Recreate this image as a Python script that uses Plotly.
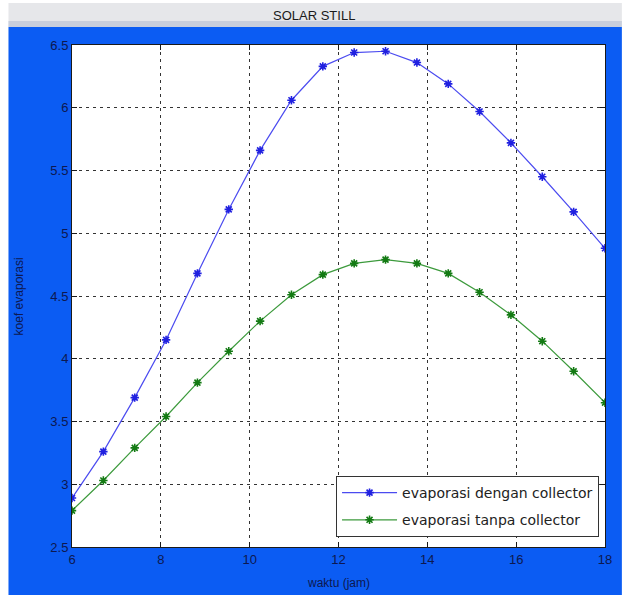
import plotly.graph_objects as go

# ---- data ----
jam = [6.0, 6.706, 7.412, 8.118, 8.824, 9.529, 10.235, 10.941, 11.647,
       12.353, 13.059, 13.765, 14.471, 15.176, 15.882, 16.588, 17.294, 18.0]
dengan_collector = [2.89, 3.26, 3.69, 4.15, 4.68, 5.19, 5.66, 6.06, 6.33,
                    6.44, 6.45, 6.36, 6.19, 5.97, 5.72, 5.45, 5.17, 4.88]
tanpa_collector = [2.79, 3.03, 3.29, 3.54, 3.81, 4.06, 4.30, 4.51, 4.67,
                   4.76, 4.79, 4.76, 4.68, 4.53, 4.35, 4.14, 3.90, 3.65]
series_names = ["evaporasi dengan collector", "evaporasi tanpa collector"]
x_ticks = [6, 8, 10, 12, 14, 16, 18]
y_ticks = [2.5, 3, 3.5, 4, 4.5, 5, 5.5, 6, 6.5]
title_text = "SOLAR STILL"
x_label = "waktu (jam)"
y_label = "koef evaporasi"

W, H = 624, 595
L, R, T, B = 72, 609, 45, 547  # plot area in pixels
pw, ph = R - L, B - T


def px(xp):
    return (xp - L) / pw


def py(yp):
    return (B - yp) / ph


FONT = "Liberation Sans, Arial, sans-serif"
WIDE = "DejaVu Sans, Liberation Sans, sans-serif"
TXT = "#0d1850"
BLUE_BG = "#0b5cf3"

fig = go.Figure()
fig.add_trace(go.Scatter(
    x=jam, y=dengan_collector, name=series_names[0], mode="lines+markers",
    line=dict(color="#4b4bf0", width=1.2),
    marker=dict(symbol="asterisk-open", size=7, color="#2020e0",
                line=dict(color="#2020e0", width=1.6)),
    legendgroup="a"))
fig.add_trace(go.Scatter(
    x=jam, y=tanpa_collector, name=series_names[1], mode="lines+markers",
    line=dict(color="#3c9a3c", width=1.2),
    marker=dict(symbol="asterisk-open", size=7, color="#137a13",
                line=dict(color="#137a13", width=1.6)),
    legendgroup="b"))

shapes = [
    # blue figure background
    dict(type="rect", xref="paper", yref="paper", x0=px(8), x1=px(W + 2),
         y0=py(H + 2), y1=py(27), fillcolor=BLUE_BG, line_width=0, layer="below"),
    # gray title band
    dict(type="rect", xref="paper", yref="paper", x0=px(8), x1=px(W + 2),
         y0=py(27), y1=py(3), fillcolor="#e6e7ea", line_width=0, layer="below"),
    dict(type="rect", xref="paper", yref="paper", x0=px(8), x1=px(W + 2),
         y0=py(27), y1=py(21), fillcolor="#c9cfdc", line_width=0, layer="below"),
    # white plot area
    dict(type="rect", xref="paper", yref="paper", x0=0, x1=1, y0=0, y1=1,
         fillcolor="white", line_width=0, layer="below"),
]

annotations = [
    dict(text=title_text, xref="paper", yref="paper", x=px(316), y=py(15),
         showarrow=False, font=dict(family=FONT, size=13, color="#1a1a1a"),
         xanchor="center", yanchor="middle"),
    dict(text=x_label, xref="paper", yref="paper", x=px(340), y=py(583),
         showarrow=False, font=dict(family=FONT, size=12, color=TXT),
         xanchor="center", yanchor="middle"),
    dict(text=y_label, xref="paper", yref="paper", x=px(19), y=py(296),
         showarrow=False, textangle=-90, font=dict(family=FONT, size=12, color=TXT),
         xanchor="center", yanchor="middle"),
]

axis_common = dict(
    showline=True, linecolor="#1a1a1a", linewidth=1, mirror="allticks",
    ticks="inside", ticklen=5, tickcolor="#1a1a1a",
    showgrid=True, gridcolor="#333333", gridwidth=1, griddash="3px,4px",
    zeroline=False, tickfont=dict(family=FONT, size=13, color=TXT),
)

fig.update_layout(
    width=W, height=H,
    margin=dict(l=L, r=W - R, t=T, b=H - B),
    paper_bgcolor="white", plot_bgcolor="rgba(0,0,0,0)",
    shapes=shapes, annotations=annotations,
    showlegend=True,
    legend=dict(x=px(603), y=py(537), xanchor="right", yanchor="bottom",
                bgcolor="white", bordercolor="#333", borderwidth=1,
                font=dict(family=WIDE, size=14, color="#222"),
                itemwidth=55, tracegroupgap=6),
    xaxis=dict(range=[6, 18], tickvals=x_ticks, **axis_common),
    yaxis=dict(range=[2.5, 6.5], tickvals=y_ticks, **axis_common),
)

fig.write_html("out.html")
